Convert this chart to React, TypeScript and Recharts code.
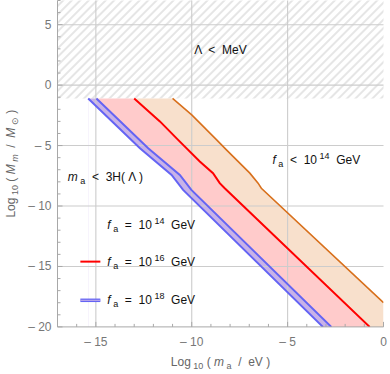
import React from 'react';
import {
  Area,
  ComposedChart,
  Line,
  ReferenceArea,
  ReferenceDot,
  ReferenceLine,
  XAxis,
  YAxis,
} from 'recharts';

// axis ticks (every unit, labels on multiples of 5)
const xTicks = [-17, -16, -15, -14, -13, -12, -11, -10, -9, -8, -7, -6, -5, -4, -3, -2, -1, 0];
const yTicks = [-20, -19, -18, -17, -16, -15, -14, -13, -12, -11, -10, -9, -8, -7, -6, -5, -4, -3, -2, -1, 0, 1, 2, 3, 4, 5, 6, 7];
const xGrid = [-15, -10, -5];
const yGrid = [5, 0, -5, -10, -15];

// excluded band Λ < MeV
const hatchBand = { from: -1.1, to: 7 };

// boundary curves, Log10(m_a/eV) vs Log10(M_m/M_sun)
const orangeEdge = [
  { x: -11.0, y: -1.1 },
  { x: -10.0, y: -2.46 },
  { x: -8.7, y: -4.53 },
  { x: -8.19, y: -5.36 },
  { x: -6.97, y: -7.28 },
  { x: -6.54, y: -8.11 },
  { x: -6.37, y: -8.53 },
  { x: 0, y: -18.0 },
];
const redEdge = [
  { x: -13.0, y: -1.1 },
  { x: -11.66, y: -3.0 },
  { x: -10.71, y: -4.53 },
  { x: -9.58, y: -6.32 },
  { x: -8.89, y: -7.28 },
  { x: -8.54, y: -8.11 },
  { x: -8.28, y: -8.53 },
  { x: -0.72, y: -20 },
];
const blueInner = [
  { x: -14.97, y: -1.1 },
  { x: -12.27, y: -5.22 },
  { x: -10.62, y: -7.43 },
  { x: -10.02, y: -8.67 },
  { x: -2.72, y: -20 },
];
const blueOuter = [
  { x: -15.4, y: -1.1 },
  { x: -12.7, y: -5.22 },
  { x: -11.05, y: -7.43 },
  { x: -10.45, y: -8.67 },
  { x: -3.16, y: -20 },
];

// fills are stacked: each covers everything under its upper edge
const orangeFill = [redEdge[0], ...orangeEdge];
const redFill = [blueInner[0], ...redEdge];
const purpleFill = [blueOuter[0], ...blueInner];

const FRAME = '#a8a8a8';
const TICK_TXT = '#777777';
const FONT = '"Liberation Sans", Arial, sans-serif';

const isMajor = (v: number) => v % 5 === 0;
const fmt = (v: number) => (v < 0 ? `\u2013 ${Math.abs(v)}` : `${v}`);

const BottomTick = (p: any) => {
  const v = p.payload.value;
  return (
    <g>
      <line x1={p.x} x2={p.x} y1={p.y} y2={p.y - (isMajor(v) ? 5 : 3)} stroke={FRAME} />
      {isMajor(v) && (
        <text x={p.x} y={p.y + 19} textAnchor="middle" fill={TICK_TXT} fontSize={12} fontFamily={FONT}>
          {fmt(v)}
        </text>
      )}
    </g>
  );
};

const TopTick = (p: any) => {
  const v = p.payload.value;
  return <line x1={p.x} x2={p.x} y1={p.y} y2={p.y + (isMajor(v) ? 5 : 3)} stroke={FRAME} />;
};

const LeftTick = (p: any) => {
  const v = p.payload.value;
  return (
    <g>
      <line x1={p.x} x2={p.x + (isMajor(v) ? 5 : 3)} y1={p.y} y2={p.y} stroke={FRAME} />
      {isMajor(v) && (
        <text x={p.x - 6} y={p.y + 4} textAnchor="end" fill={TICK_TXT} fontSize={12} fontFamily={FONT}>
          {fmt(v)}
        </text>
      )}
    </g>
  );
};

const RightTick = (p: any) => {
  const v = p.payload.value;
  return <line x1={p.x} x2={p.x - (isMajor(v) ? 5 : 3)} y1={p.y} y2={p.y} stroke={FRAME} />;
};

const XTitle = (p: any) => {
  const vb = p.viewBox;
  return (
    <text x={vb.x + vb.width / 2} y={vb.y + 39} textAnchor="middle" fill="#666" fontSize={12} fontFamily={FONT} xmlSpace="preserve">
      Log<tspan fontSize={9} dy={3}> 10</tspan>
      <tspan dy={-3}> ( </tspan>
      <tspan fontStyle="italic">m</tspan>
      <tspan fontSize={9} dy={3}> a</tspan>
      <tspan dy={-3}>  /  eV )</tspan>
    </text>
  );
};

const YTitle = (p: any) => {
  const vb = p.viewBox;
  const cx = 15.5;
  const cy = vb.y + vb.height / 2;
  return (
    <text x={cx} y={cy} textAnchor="middle" fill="#666" fontSize={12} fontFamily={FONT} transform={`rotate(-90 ${cx} ${cy})`} xmlSpace="preserve">
      Log<tspan fontSize={9} dy={3}> 10</tspan>
      <tspan dy={-3}> ( </tspan>
      <tspan fontStyle="italic">M</tspan>
      <tspan fontSize={9} dy={3} fontStyle="italic"> m</tspan>
      <tspan dy={-3}>  /  </tspan>
      <tspan fontStyle="italic">M</tspan>
      <tspan fontSize={9} dy={3}> ⊙</tspan>
      <tspan dy={-3}> )</tspan>
    </text>
  );
};

const at = (body: (x: number, y: number) => React.ReactNode) => (p: any) => {
  const vb = p.viewBox || {};
  return body(vb.x + (vb.width || 0) / 2, vb.y + (vb.height || 0) / 2);
};

const FaText = ({ x, y, rel, pow, anchor = 'start' }: { x: number; y: number; rel: string; pow: string; anchor?: string }) => (
  <text x={x} y={y + 4} textAnchor={anchor} fill="#111" fontSize={12} fontFamily={FONT} xmlSpace="preserve">
    <tspan fontStyle="italic">f</tspan>
    <tspan fontSize={9} dy={3}> a</tspan>
    <tspan dy={-3}>{`  ${rel}  10`}</tspan>
    <tspan fontSize={9} dy={-5}>{` ${pow}`}</tspan>
    <tspan dy={5}>  GeV</tspan>
  </text>
);

export default function App() {
  return (
    <div style={{ position: 'absolute', left: 0, top: 0, width: 390, height: 374, background: '#fff' }}>
      <ComposedChart width={390} height={374} margin={{ top: 0.5, right: 6.5, bottom: 0, left: 0 }}>
        <defs>
          <pattern id="hatch" patternUnits="userSpaceOnUse" width={6} height={6} patternTransform="rotate(-45)">
            <line x1={0} y1={3} x2={6} y2={3} stroke="#c6c6c6" strokeWidth={0.9} />
          </pattern>
        </defs>
        <XAxis
          dataKey="x"
          type="number"
          domain={[-17, 0]}
          ticks={xTicks}
          interval={0}
          height={47.1}
          tickLine={false}
          tickSize={0}
          tickMargin={0}
          tick={BottomTick}
          axisLine={{ stroke: FRAME }}
          allowDataOverflow
          label={XTitle}
        />
        <XAxis
          xAxisId="top"
          orientation="top"
          type="number"
          domain={[-17, 0]}
          ticks={xTicks}
          interval={0}
          height={0}
          tickLine={false}
          tickSize={0}
          tickMargin={0}
          tick={TopTick}
          axisLine={{ stroke: FRAME }}
          allowDataOverflow
        />
        <YAxis
          type="number"
          domain={[-20, 7]}
          ticks={yTicks}
          interval={0}
          width={57.5}
          tickLine={false}
          tickSize={0}
          tickMargin={0}
          tick={LeftTick}
          axisLine={{ stroke: FRAME }}
          allowDataOverflow
          label={YTitle}
        />
        <YAxis
          yAxisId="right"
          orientation="right"
          type="number"
          domain={[-20, 7]}
          ticks={yTicks}
          interval={0}
          width={0}
          tickLine={false}
          tickSize={0}
          tickMargin={0}
          tick={RightTick}
          axisLine={{ stroke: FRAME }}
          allowDataOverflow
        />

        <ReferenceArea x1={-17} x2={0} y1={hatchBand.from} y2={hatchBand.to} fill="url(#hatch)" fillOpacity={1} stroke="none" />

        <Area data={orangeFill} dataKey="y" type="linear" baseValue={-20} fill="#f8e0cc" fillOpacity={1} stroke="none" isAnimationActive={false} />
        <Area data={redFill} dataKey="y" type="linear" baseValue={-20} fill="#ffcbcb" fillOpacity={1} stroke="none" isAnimationActive={false} />
        <Area data={purpleFill} dataKey="y" type="linear" baseValue={-20} fill="#c8b2e8" fillOpacity={1} stroke="none" isAnimationActive={false} />
        <Area data={blueOuter} dataKey="y" type="linear" baseValue={-20} fill="#ffffff" fillOpacity={1} stroke="none" isAnimationActive={false} />

        {xGrid.map((v) => (
          <ReferenceLine key={`gx${v}`} x={v} stroke="#cccccc" strokeWidth={1.1} />
        ))}
        {yGrid.map((v) => (
          <ReferenceLine key={`gy${v}`} y={v} stroke="#cccccc" strokeWidth={1.1} />
        ))}

        <Line data={orangeEdge} dataKey="y" type="linear" stroke="#d8701c" strokeWidth={1.6} dot={false} isAnimationActive={false} />
        <Line data={redEdge} dataKey="y" type="linear" stroke="#ff0000" strokeWidth={2} dot={false} isAnimationActive={false} />
        <Line data={blueInner} dataKey="y" type="linear" stroke="#6464f4" strokeWidth={2} dot={false} isAnimationActive={false} />
        <Line data={blueOuter} dataKey="y" type="linear" stroke="#6464f4" strokeWidth={2} dot={false} isAnimationActive={false} />

        <ReferenceDot
          x={-8.5}
          y={2.9}
          r={0}
          label={at((x, y) => (
            <text x={x} y={y + 4} textAnchor="middle" fill="#111" fontSize={12} fontFamily={FONT} xmlSpace="preserve">
              Λ  &lt;  MeV
            </text>
          ))}
        />
        <ReferenceDot
          x={-14.5}
          y={-7.6}
          r={0}
          label={at((x, y) => (
            <text x={x} y={y + 4} textAnchor="middle" fill="#111" fontSize={12} fontFamily={FONT} xmlSpace="preserve">
              <tspan fontStyle="italic">m</tspan>
              <tspan fontSize={9} dy={3}> a</tspan>
              <tspan dy={-3}>  &lt;  3H( Λ )</tspan>
            </text>
          ))}
        />
        <ReferenceDot
          x={-3.5}
          y={-6.2}
          r={0}
          label={at((x, y) => <FaText x={x} y={y} rel="<" pow="14" anchor="middle" />)}
        />

        {/* legend */}
        <ReferenceDot x={-14.4} y={-11.6} r={0} label={at((x, y) => <FaText x={x} y={y} rel="=" pow="14" />)} />
        <ReferenceDot
          x={-14.4}
          y={-14.6}
          r={0}
          label={at((x, y) => (
            <g>
              <line x1={x - 27} x2={x - 7} y1={y} y2={y} stroke="#ff0000" strokeWidth={2} />
              <FaText x={x} y={y} rel="=" pow="16" />
            </g>
          ))}
        />
        <ReferenceDot
          x={-14.4}
          y={-17.8}
          r={0}
          label={at((x, y) => (
            <g>
              <line x1={x - 27} x2={x - 7} y1={y} y2={y} stroke="#6464f4" strokeWidth={3.5} />
              <line x1={x - 27} x2={x - 7} y1={y} y2={y} stroke="#c8b2e8" strokeWidth={1} />
              <FaText x={x} y={y} rel="=" pow="18" />
            </g>
          ))}
        />
      </ComposedChart>
    </div>
  );
}
